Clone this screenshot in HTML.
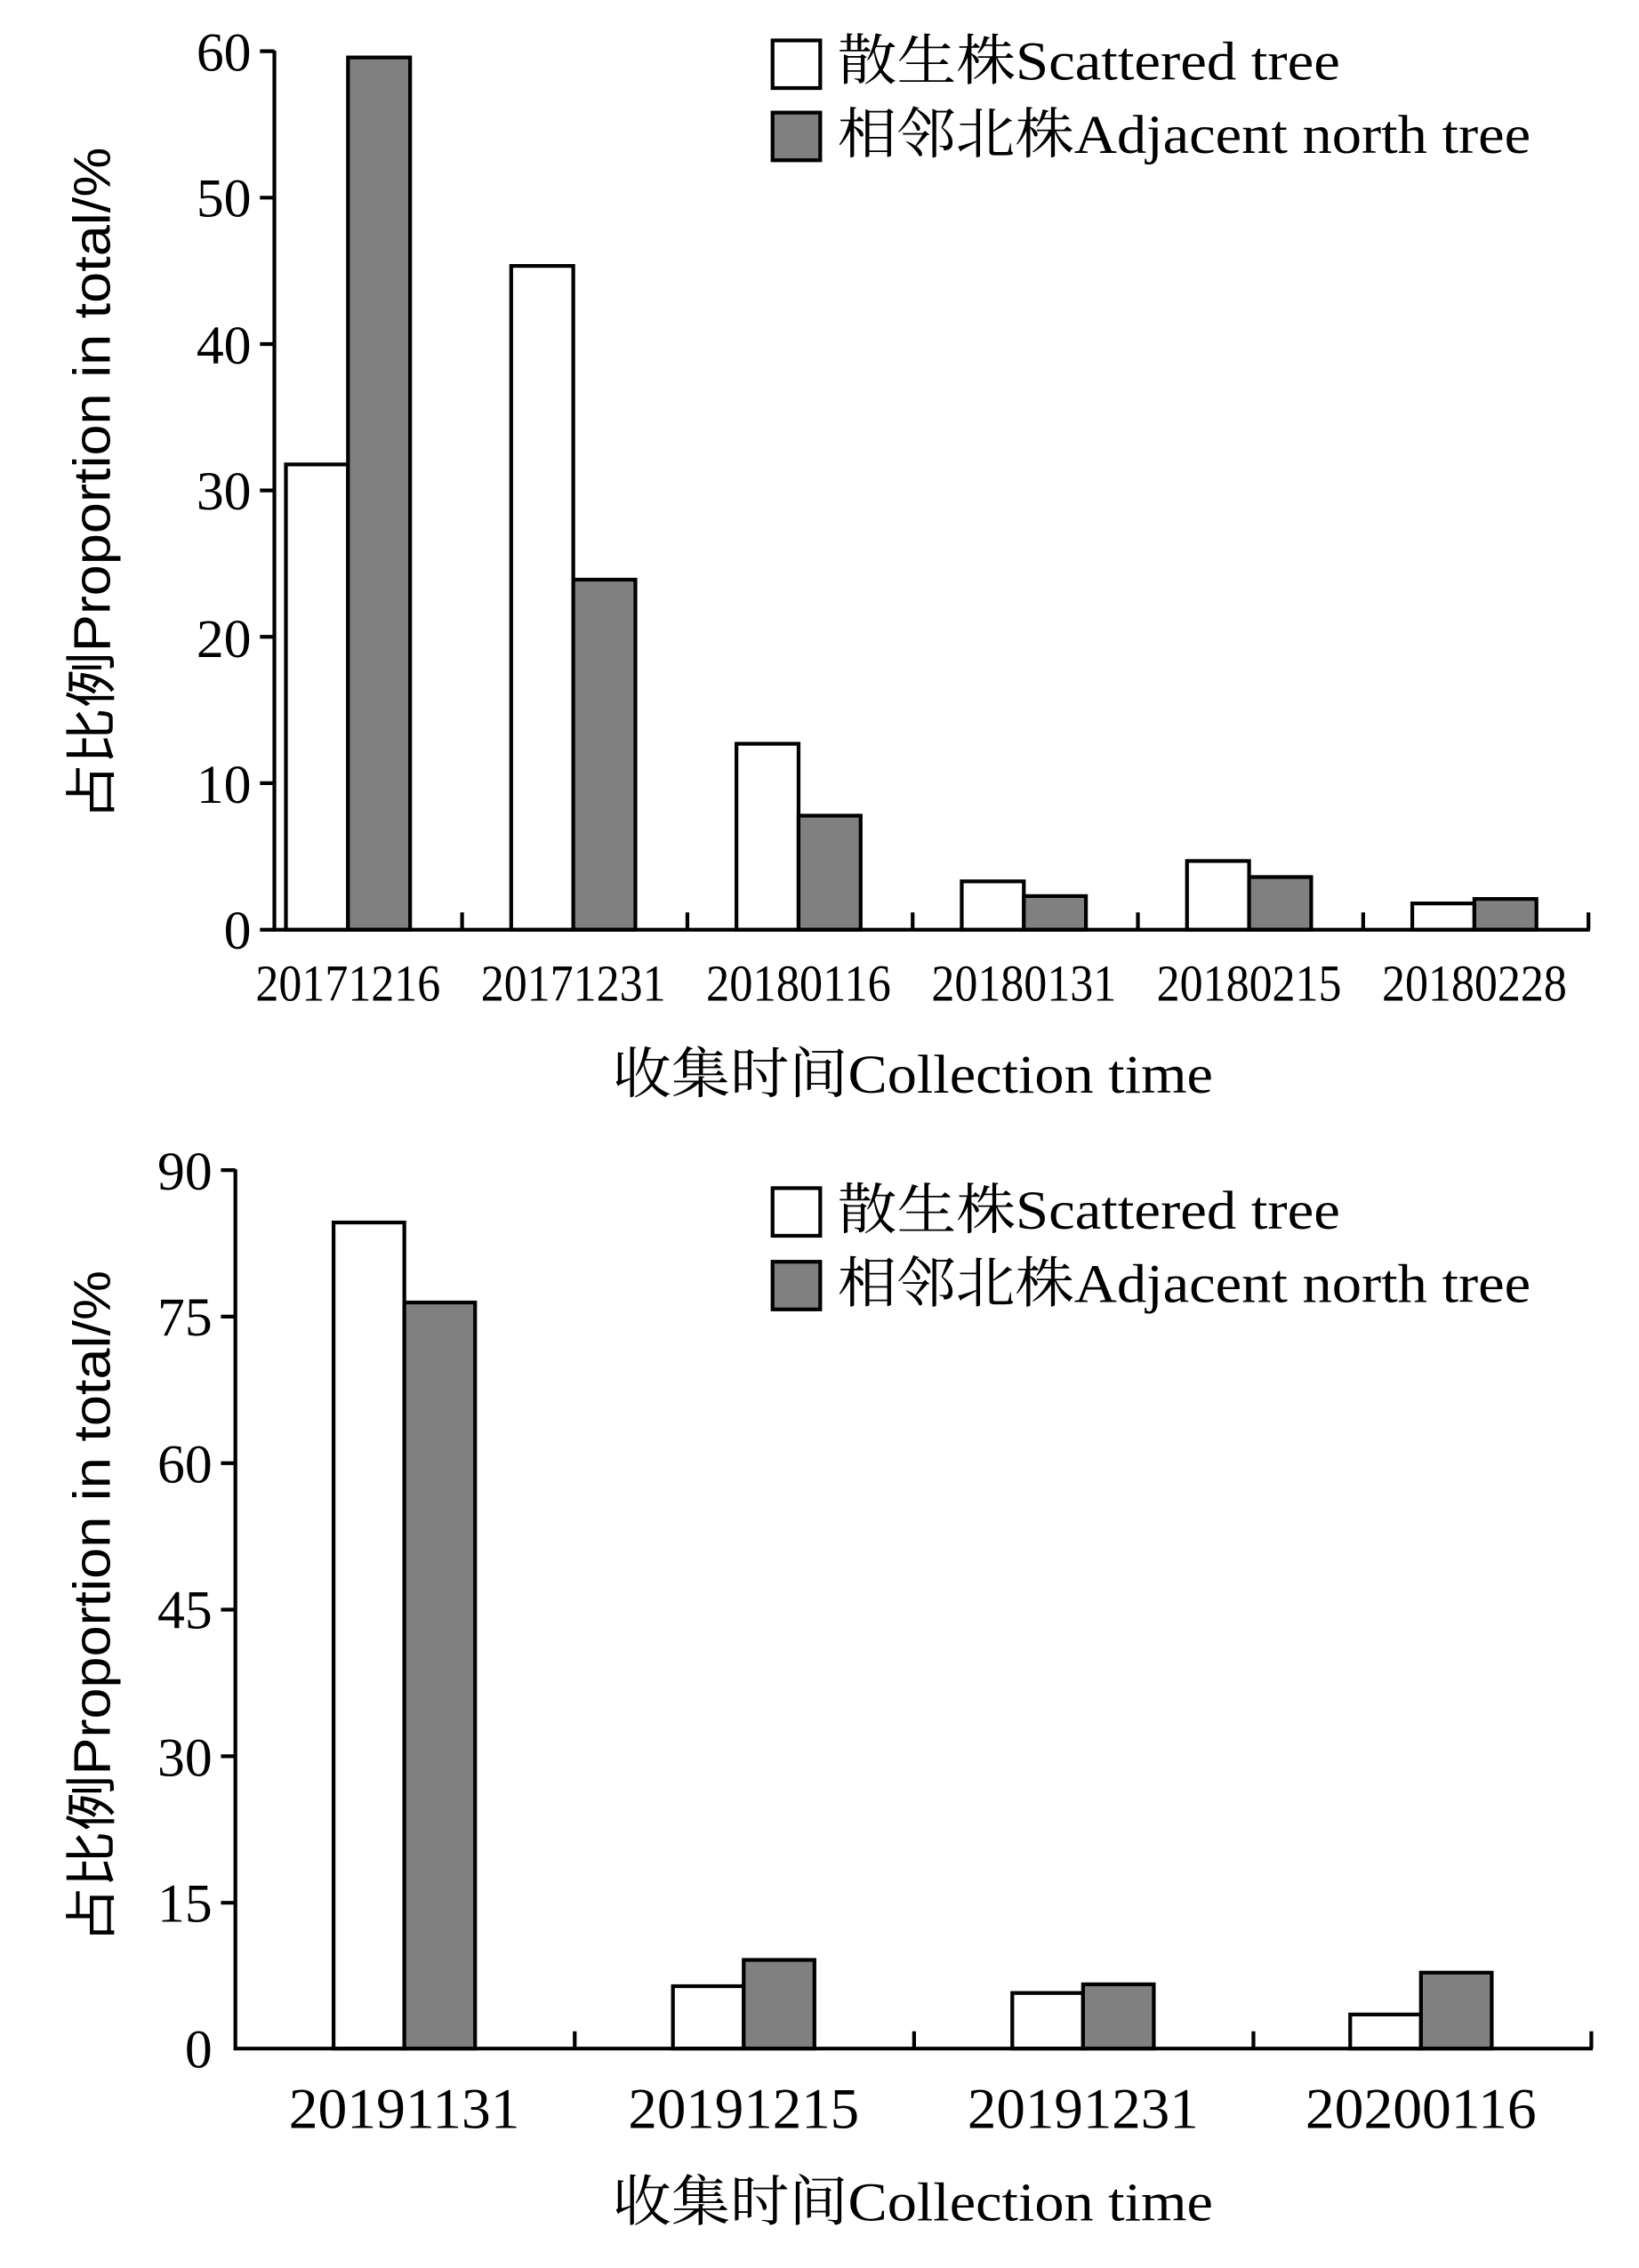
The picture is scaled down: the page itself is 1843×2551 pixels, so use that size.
<!DOCTYPE html>
<html><head><meta charset="utf-8"><style>html,body{margin:0;padding:0;background:#fff}svg{display:block}</style></head>
<body>
<svg width="1843" height="2551" viewBox="0 0 1135 1571" preserveAspectRatio="none" xmlns="http://www.w3.org/2000/svg" font-family="'Liberation Serif','Noto Serif CJK SC',serif">
<g stroke="#000" stroke-width="2.6">
<!-- top chart bars -->
<rect x="198" y="321.7" width="43" height="322.3" fill="#fff"/>
<rect x="241" y="39.8" width="43" height="604.2" fill="#808080"/>
<rect x="354" y="184.2" width="43" height="459.8" fill="#fff"/>
<rect x="397" y="401.5" width="43" height="242.5" fill="#808080"/>
<rect x="510" y="515.2" width="43" height="128.8" fill="#fff"/>
<rect x="553" y="565" width="43" height="79" fill="#808080"/>
<rect x="666" y="610.5" width="43" height="33.5" fill="#fff"/>
<rect x="709" y="620.7" width="43" height="23.3" fill="#808080"/>
<rect x="822" y="596.4" width="43" height="47.6" fill="#fff"/>
<rect x="865" y="607.5" width="43" height="36.5" fill="#808080"/>
<rect x="978" y="625.8" width="43" height="18.2" fill="#fff"/>
<rect x="1021" y="622.7" width="43" height="21.3" fill="#808080"/>
<!-- top axes -->
<path d="M190 35V644H1101" fill="none"/>
<path d="M180 35.5H190M180 136.9H190M180 238.3H190M180 339.7H190M180 441.1H190M180 542.5H190M180 644H190"/>
<path d="M320 644V632M476 644V632M632 644V632M788 644V632M944 644V632M1100 644V632"/>
<!-- legend top -->
<rect x="535" y="28" width="33" height="33" fill="#fff"/>
<rect x="535" y="78" width="33" height="33" fill="#808080"/>

<!-- bottom chart bars -->
<rect x="231" y="846.8" width="49" height="572.2" fill="#fff"/>
<rect x="280" y="902.2" width="49" height="516.8" fill="#808080"/>
<rect x="466" y="1375.8" width="49" height="43.2" fill="#fff"/>
<rect x="515" y="1357.6" width="49" height="61.4" fill="#808080"/>
<rect x="701" y="1380.5" width="49" height="38.5" fill="#fff"/>
<rect x="750" y="1374.5" width="49" height="44.5" fill="#808080"/>
<rect x="935" y="1395.4" width="49" height="23.6" fill="#fff"/>
<rect x="984" y="1366.4" width="49" height="52.6" fill="#808080"/>
<!-- bottom axes -->
<path d="M163 810V1419H1103" fill="none"/>
<path d="M153 810.5H163M153 912H163M153 1013.5H163M153 1115H163M153 1216.5H163M153 1318H163"/>
<path d="M398 1419V1407M633 1419V1407M868 1419V1407M1102 1419V1407"/>
<rect x="535" y="823" width="33" height="33" fill="#fff"/>
<rect x="535" y="874" width="33" height="33" fill="#808080"/>
</g>
<g font-size="38" fill="#000">
<g text-anchor="end">
<text x="174" y="49">60</text><text x="174" y="150">50</text><text x="174" y="252">40</text><text x="174" y="353">30</text><text x="174" y="455">20</text><text x="174" y="556">10</text><text x="174" y="657">0</text>
<text x="147" y="824">90</text><text x="147" y="925">75</text><text x="147" y="1027">60</text><text x="147" y="1128">45</text><text x="147" y="1230">30</text><text x="147" y="1331">15</text><text x="147" y="1432">0</text>
</g>
<g text-anchor="middle" font-size="36" lengthAdjust="spacingAndGlyphs">
<text x="241" y="693" textLength="128" lengthAdjust="spacingAndGlyphs">20171216</text>
<text x="397" y="693" textLength="128" lengthAdjust="spacingAndGlyphs">20171231</text>
<text x="553" y="693" textLength="128" lengthAdjust="spacingAndGlyphs">20180116</text>
<text x="709" y="693" textLength="128" lengthAdjust="spacingAndGlyphs">20180131</text>
<text x="865" y="693" textLength="128" lengthAdjust="spacingAndGlyphs">20180215</text>
<text x="1021" y="693" textLength="128" lengthAdjust="spacingAndGlyphs">20180228</text>
</g>
<g text-anchor="middle" font-size="40">
<text x="280" y="1474" textLength="160" lengthAdjust="spacingAndGlyphs">20191131</text>
<text x="515" y="1474" textLength="160" lengthAdjust="spacingAndGlyphs">20191215</text>
<text x="750" y="1474" textLength="160" lengthAdjust="spacingAndGlyphs">20191231</text>
<text x="984" y="1474" textLength="160" lengthAdjust="spacingAndGlyphs">20200116</text>
</g>
<text x="424" y="757" textLength="416" lengthAdjust="spacingAndGlyphs">收集时间Collection time</text>
<text x="424" y="1538" textLength="416" lengthAdjust="spacingAndGlyphs">收集时间Collection time</text>
<text x="580" y="55" textLength="348" lengthAdjust="spacingAndGlyphs">散生株Scattered tree</text>
<text x="580" y="106" textLength="480" lengthAdjust="spacingAndGlyphs">相邻北株Adjacent north tree</text>
<text x="580" y="851" textLength="348" lengthAdjust="spacingAndGlyphs">散生株Scattered tree</text>
<text x="580" y="902" textLength="480" lengthAdjust="spacingAndGlyphs">相邻北株Adjacent north tree</text>
<text transform="translate(76,568) rotate(-90)" textLength="466" lengthAdjust="spacingAndGlyphs" font-family="'Liberation Sans','Noto Sans CJK SC',sans-serif" font-size="36">占比例Proportion in total/%</text>
<text transform="translate(76,1346) rotate(-90)" textLength="466" lengthAdjust="spacingAndGlyphs" font-family="'Liberation Sans','Noto Sans CJK SC',sans-serif" font-size="36">占比例Proportion in total/%</text>
</g>
</svg>
</body></html>
